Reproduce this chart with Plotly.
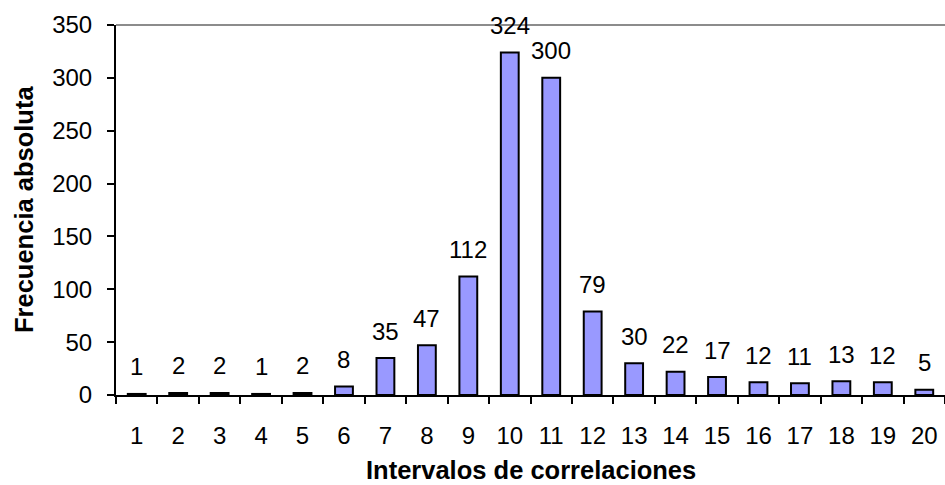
import plotly.graph_objects as go

categories = [str(i) for i in range(1, 21)]
values = [1, 2, 2, 1, 2, 8, 35, 47, 112, 324, 300, 79, 30, 22, 17, 12, 11, 13, 12, 5]
y_ticks = [0, 50, 100, 150, 200, 250, 300, 350]
x_title = "Intervalos de correlaciones"
y_title = "Frecuencia absoluta"

FONT = "Liberation Sans, Arial, sans-serif"
NUM_SIZE = 24
TITLE_SIZE = 25.5

fig = go.Figure()
fig.add_trace(go.Bar(
    x=categories, y=values,
    marker=dict(color="#9999FF", line=dict(color="black", width=2)),
    width=0.43,
    hoverinfo="skip",
))

for i, v in enumerate(values):
    fig.add_annotation(x=i, y=v, text=str(v), showarrow=False,
                       yanchor="middle", yshift=27,
                       font=dict(family=FONT, size=NUM_SIZE, color="black"))

# axis titles
fig.add_annotation(xref="paper", yref="paper", x=0.5, y=0, yshift=-75,
                   text="<b>%s</b>" % x_title, showarrow=False,
                   xanchor="center", yanchor="middle",
                   font=dict(family=FONT, size=TITLE_SIZE, color="black"))
fig.add_annotation(xref="paper", yref="paper", x=0, y=0.5, xshift=-92,
                   text="<b>%s</b>" % y_title, showarrow=False, textangle=-90,
                   xanchor="center", yanchor="middle",
                   font=dict(family=FONT, size=TITLE_SIZE, color="black"))

fig.add_shape(type="line", xref="paper", yref="paper", x0=0, x1=1, y0=1, y1=1,
              line=dict(color="#8c8c8c", width=2), layer="above")

fig.update_layout(
    width=945, height=485,
    margin=dict(l=116, r=0, t=25, b=90),
    paper_bgcolor="white", plot_bgcolor="white",
    showlegend=False,
    font=dict(family=FONT, size=NUM_SIZE, color="black"),
    xaxis=dict(
        type="category", tickson="boundaries", ticks="outside", ticklen=7,
        tickcolor="black", tickwidth=1.5, showline=True, linecolor="black", linewidth=2,
        showgrid=False, tickfont=dict(size=NUM_SIZE), ticklabelstandoff=18,
        automargin=False,
    ),
    yaxis=dict(
        range=[0, 350], tickvals=y_ticks, ticks="outside", ticklen=7,
        tickcolor="black", tickwidth=1.5, showline=True, linecolor="black", linewidth=2,
        showgrid=False, zeroline=False, tickfont=dict(size=NUM_SIZE), ticklabelstandoff=10,
        automargin=False,
    ),
)

fig.write_html("out.html", config={"displayModeBar": False},
               post_script="document.body.style.margin='0';")
